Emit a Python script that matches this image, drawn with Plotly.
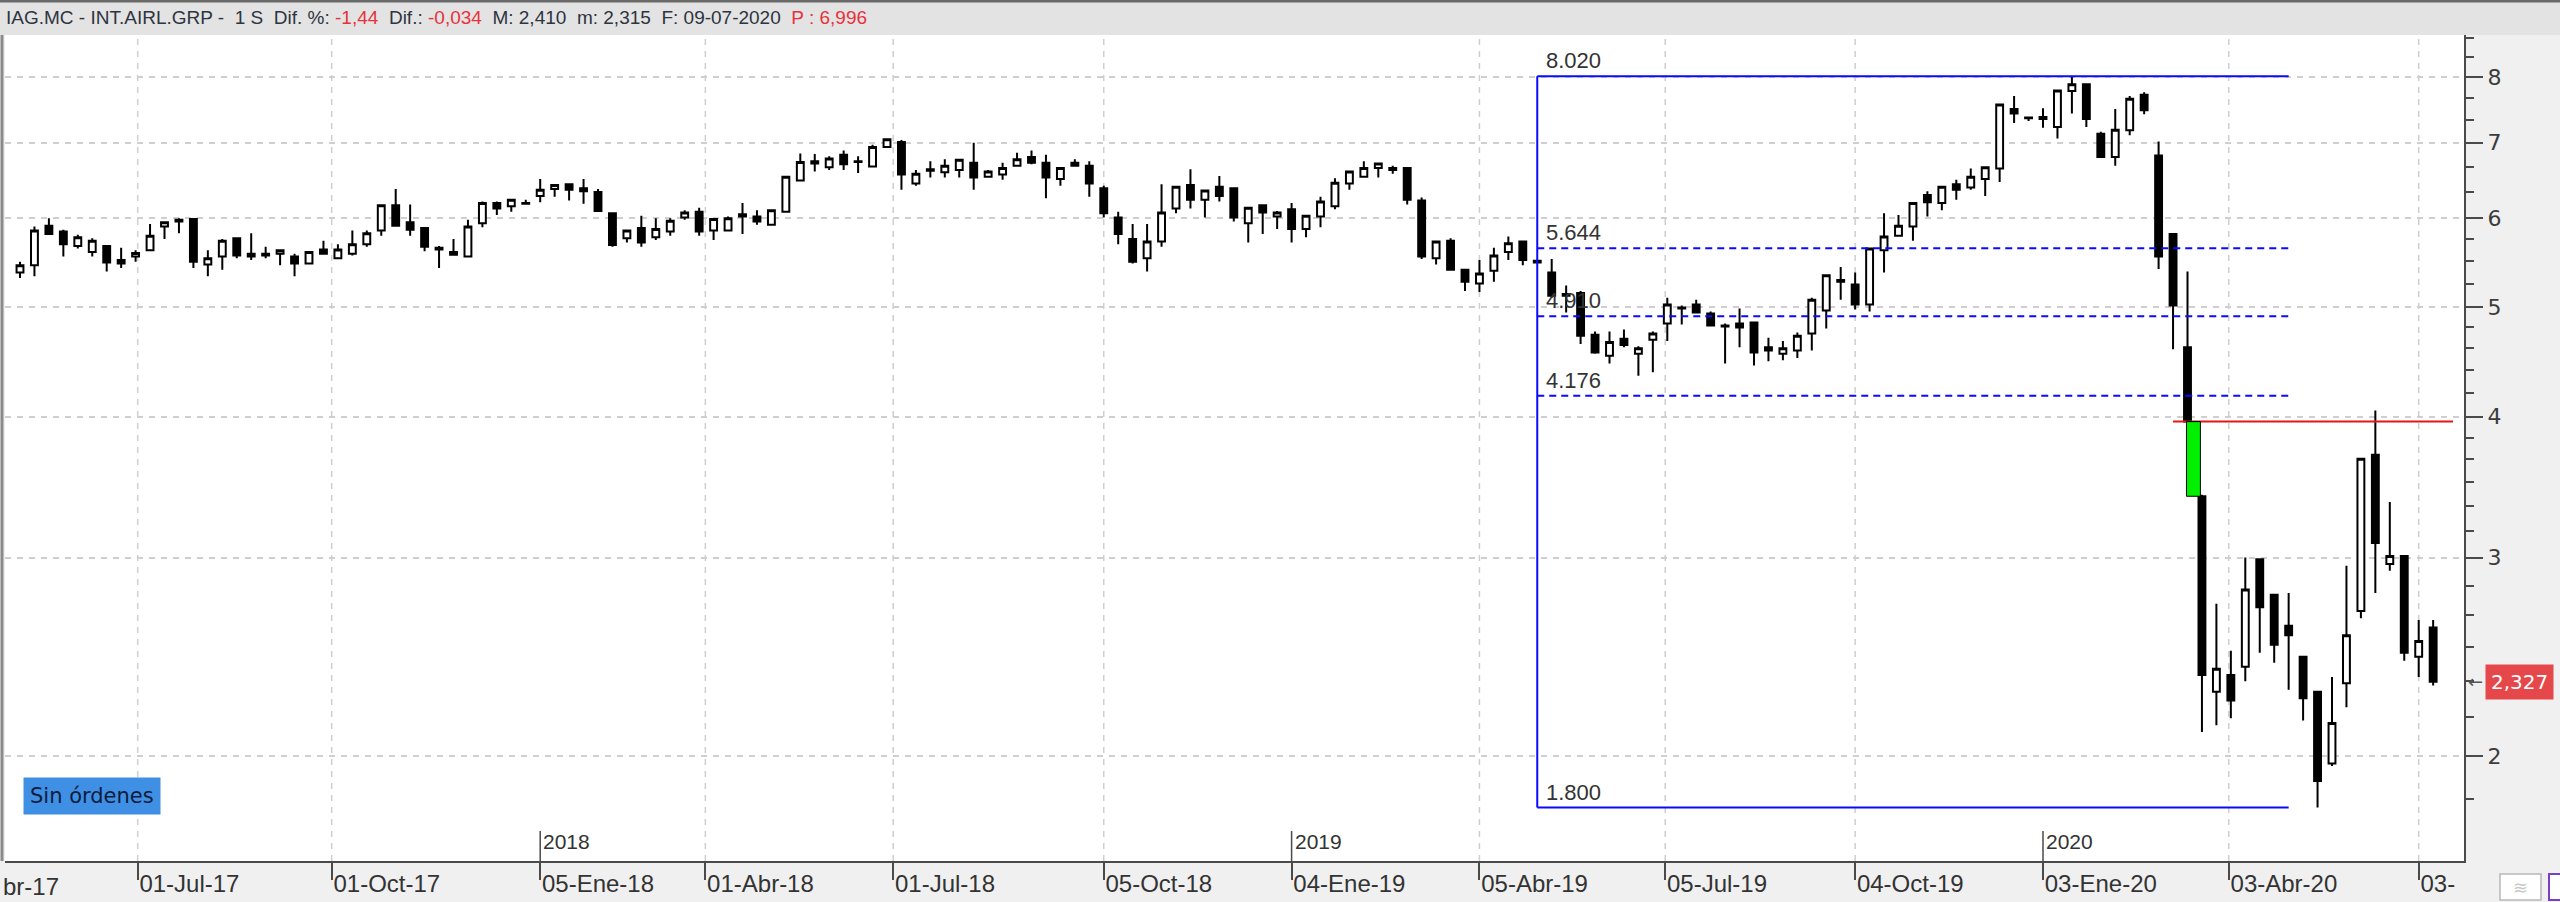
import math
import pandas as pd
import plotly.graph_objects as go

# ---------------- data ----------------
start_date = "2017-04-28"          # weekly candles (Fridays)
n_weeks = 168
dates = pd.date_range(start_date, periods=n_weeks, freq="7D")

open_ = [
    5.37, 5.45, 5.91, 5.84, 5.67, 5.60, 5.67, 5.51, 5.55, 5.62,
    5.90, 5.96, 5.99, 5.46, 5.55, 5.76, 5.58, 5.58, 5.58, 5.55,
    5.47, 5.63, 5.53, 5.58, 5.69, 5.85, 6.16, 5.95, 5.88, 5.65,
    5.60, 5.55, 5.94, 6.19, 6.15, 6.18, 6.28, 6.37, 6.43, 6.38,
    6.33, 6.06, 5.76, 5.88, 5.77, 5.84, 6.01, 6.08, 5.85, 5.85,
    6.05, 6.02, 5.92, 6.08, 6.48, 6.74, 6.66, 6.83, 6.74, 6.67,
    6.94, 7.01, 6.44, 6.63, 6.59, 6.62, 6.72, 6.53, 6.56, 6.68,
    6.80, 6.72, 6.50, 6.72, 6.68, 6.38, 6.01, 5.75, 5.53, 5.72,
    6.12, 6.42, 6.23, 6.40, 6.38, 5.94, 6.16, 6.02, 6.11, 5.87,
    6.02, 6.15, 6.44, 6.53, 6.65, 6.65, 6.65, 6.22, 5.53, 5.73,
    5.40, 5.25, 5.39, 5.60, 5.72, 5.50, 5.37, 5.14, 5.15, 4.73,
    4.53, 4.69, 4.55, 4.68, 4.84, 4.99, 5.03, 4.94, 4.82, 4.84,
    4.85, 4.61, 4.55, 4.58, 4.74, 4.97, 5.29, 5.24, 5.03, 5.62,
    5.79, 5.90, 6.29, 6.19, 6.43, 6.39, 6.50, 6.64, 7.50, 7.37,
    7.38, 7.23, 7.78, 7.89, 7.13, 6.80, 7.18, 7.72, 6.82, 5.81,
    4.61, 3.40, 2.28, 2.36, 2.40, 2.99, 2.78, 2.61, 2.45, 2.28,
    1.97, 2.32, 2.69, 3.70, 2.96, 3.01, 2.45, 2.60,
]
high = [
    5.49, 5.90, 6.00, 5.86, 5.80, 5.76, 5.67, 5.65, 5.62, 5.93,
    5.96, 6.00, 6.00, 5.62, 5.75, 5.77, 5.82, 5.66, 5.63, 5.58,
    5.60, 5.73, 5.69, 5.85, 5.85, 6.17, 6.37, 6.17, 5.88, 5.67,
    5.75, 5.98, 6.21, 6.21, 6.24, 6.23, 6.50, 6.43, 6.43, 6.50,
    6.37, 6.06, 5.85, 6.03, 6.00, 6.00, 6.10, 6.13, 6.00, 6.02,
    6.19, 6.10, 6.10, 6.54, 6.85, 6.84, 6.81, 6.89, 6.81, 6.97,
    7.06, 7.04, 6.62, 6.74, 6.77, 6.77, 7.00, 6.62, 6.72, 6.86,
    6.89, 6.83, 6.65, 6.77, 6.74, 6.41, 6.08, 5.93, 5.93, 6.43,
    6.40, 6.63, 6.35, 6.54, 6.38, 6.13, 6.16, 6.09, 6.19, 6.03,
    6.27, 6.51, 6.60, 6.74, 6.72, 6.68, 6.65, 6.26, 5.72, 5.76,
    5.40, 5.51, 5.65, 5.78, 5.72, 5.51, 5.52, 5.23, 5.17, 4.76,
    4.76, 4.78, 4.62, 4.76, 5.10, 5.02, 5.08, 4.96, 4.84, 4.99,
    4.85, 4.70, 4.67, 4.75, 5.10, 5.34, 5.43, 5.37, 5.64, 6.06,
    6.04, 6.19, 6.34, 6.40, 6.49, 6.64, 6.66, 7.57, 7.70, 7.38,
    7.51, 7.79, 8.02, 7.89, 7.16, 7.50, 7.70, 7.76, 7.02, 5.81,
    5.38, 3.41, 2.73, 2.48, 3.00, 2.99, 2.78, 2.79, 2.45, 2.28,
    2.35, 2.95, 3.67, 4.05, 3.36, 3.01, 2.64, 2.64,
]
low = [
    5.31, 5.33, 5.81, 5.55, 5.64, 5.55, 5.38, 5.42, 5.49, 5.62,
    5.75, 5.82, 5.42, 5.33, 5.40, 5.53, 5.51, 5.53, 5.45, 5.33,
    5.46, 5.58, 5.52, 5.56, 5.66, 5.79, 5.91, 5.79, 5.61, 5.42,
    5.57, 5.55, 5.89, 6.04, 6.08, 6.18, 6.20, 6.27, 6.22, 6.18,
    6.08, 5.66, 5.71, 5.66, 5.74, 5.79, 5.98, 5.79, 5.74, 5.84,
    5.81, 5.92, 5.92, 6.07, 6.47, 6.60, 6.62, 6.62, 6.58, 6.67,
    6.94, 6.36, 6.41, 6.52, 6.52, 6.52, 6.36, 6.52, 6.49, 6.68,
    6.70, 6.25, 6.41, 6.68, 6.27, 6.01, 5.69, 5.47, 5.38, 5.66,
    6.06, 6.12, 6.01, 6.21, 5.96, 5.71, 5.81, 5.87, 5.71, 5.77,
    5.89, 6.11, 6.36, 6.52, 6.52, 6.57, 6.17, 5.52, 5.46, 5.40,
    5.17, 5.16, 5.27, 5.51, 5.45, 5.47, 5.10, 4.95, 4.64, 4.55,
    4.46, 4.61, 4.35, 4.38, 4.67, 4.83, 4.95, 4.82, 4.46, 4.61,
    4.44, 4.48, 4.49, 4.51, 4.58, 4.79, 5.08, 4.98, 4.96, 5.37,
    5.78, 5.73, 6.02, 6.10, 6.23, 6.36, 6.28, 6.46, 7.29, 7.32,
    7.22, 7.06, 7.43, 7.23, 6.80, 6.68, 7.11, 7.42, 5.41, 4.59,
    3.95, 2.10, 2.13, 2.16, 2.33, 2.47, 2.42, 2.29, 2.15, 1.80,
    1.96, 2.21, 2.65, 2.79, 2.92, 2.43, 2.35, 2.31,
]
close = [
    5.45, 5.85, 5.81, 5.69, 5.77, 5.73, 5.48, 5.47, 5.59, 5.79,
    5.95, 5.98, 5.49, 5.53, 5.73, 5.56, 5.55, 5.56, 5.62, 5.47,
    5.60, 5.58, 5.63, 5.69, 5.82, 6.16, 5.91, 5.86, 5.66, 5.63,
    5.57, 5.90, 6.19, 6.12, 6.23, 6.19, 6.36, 6.42, 6.36, 6.34,
    6.09, 5.68, 5.85, 5.71, 5.87, 5.97, 6.07, 5.84, 5.99, 6.00,
    6.02, 5.96, 6.10, 6.53, 6.73, 6.71, 6.78, 6.70, 6.73, 6.94,
    7.05, 6.56, 6.57, 6.61, 6.68, 6.76, 6.52, 6.60, 6.65, 6.77,
    6.72, 6.52, 6.65, 6.68, 6.44, 6.06, 5.81, 5.49, 5.72, 6.07,
    6.40, 6.23, 6.35, 6.28, 6.01, 6.13, 6.07, 6.07, 5.87, 6.03,
    6.21, 6.45, 6.60, 6.65, 6.71, 6.62, 6.23, 5.55, 5.72, 5.40,
    5.27, 5.36, 5.56, 5.70, 5.51, 5.48, 5.12, 5.12, 4.72, 4.56,
    4.66, 4.63, 4.60, 4.74, 5.03, 5.00, 4.95, 4.82, 4.81, 4.80,
    4.56, 4.58, 4.60, 4.72, 5.08, 5.34, 5.27, 5.03, 5.64, 5.78,
    5.91, 6.19, 6.20, 6.40, 6.36, 6.53, 6.66, 7.57, 7.43, 7.36,
    7.35, 7.79, 7.89, 7.35, 6.80, 7.19, 7.66, 7.48, 5.55, 5.02,
    3.96, 2.36, 2.39, 2.24, 2.81, 2.71, 2.51, 2.56, 2.25, 1.90,
    2.14, 2.56, 3.67, 3.09, 3.01, 2.47, 2.53, 2.327,
]

# x-axis labels
tick_dates = ["2017-06-24", "2017-09-26", "2018-01-05", "2018-03-26", "2018-06-25",
              "2018-10-05", "2019-01-04", "2019-04-05", "2019-07-04", "2019-10-04",
              "2020-01-03", "2020-04-02", "2020-07-03"]
tick_text = ["01-Jul-17", "01-Oct-17", "05-Ene-18", "01-Abr-18", "01-Jul-18",
             "05-Oct-18", "04-Ene-19", "05-Abr-19", "05-Jul-19", "04-Oct-19",
             "03-Ene-20", "03-Abr-20", "03-"]
first_label_text = "br-17"     # visible tail of the label left of the visible area
year_dates = ["2018-01-05", "2019-01-04", "2020-01-03"]
year_text = ["2018", "2019", "2020"]

# y-axis ticks
y_major = [2, 3, 4, 5, 6, 7, 8]
y_minor = [1.833, 2.167, 2.333, 2.5, 2.667, 2.833, 3.167, 3.333, 3.5, 3.667, 3.833,
           4.2, 4.4, 4.6, 4.8, 5.25, 5.5, 5.75, 6.333, 6.667, 7.333, 7.667, 8.333, 8.667]

# Fibonacci retracement
fib_levels = [8.020, 5.644, 4.910, 4.176, 1.800]
fib_text = ["8.020", "5.644", "4.910", "4.176", "1.800"]
fib_start = "2019-05-03"
fib_end = "2020-05-01"

red_level = 3.96
last_price = 2.327
last_price_text = "2,327"

title_parts = {
    "name": "IAG.MC - INT.AIRL.GRP -",
    "period": "1 S",
    "dif_pct": "-1,44",
    "dif": "-0,034",
    "max": "2,410",
    "min": "2,315",
    "date": "09-07-2020",
    "p": "6,996",
}
orders_text = "Sin órdenes"

# ---------------- layout geometry ----------------
W, H = 2560, 902
ML, MR, MT, MB = 5, 96, 35, 41
PW = W - ML - MR
PH = H - MT - MB
week_px = 14.45
first_px = 20


def px_x(px):
    return (px - ML) / PW


def px_y(py):
    return (H - MB - py) / PH


wk = pd.Timedelta(days=7)
x_left = dates[0] - wk * ((first_px - ML) / week_px)
x_right = dates[0] + wk * ((ML + PW - first_px) / week_px)
y_top = 2 * math.exp((756 - MT) / 489.5)
y_bot = 2 * math.exp((756 - (H - MB)) / 489.5)

AX = "#4a4a4a"
GRID = "#cfcfcf"
BLUE = "#0a0aff"
RED_TXT = "#e8323c"

fig = go.Figure()
fig.add_trace(go.Candlestick(
    x=dates, open=open_, high=high, low=low, close=close,
    increasing=dict(fillcolor="white", line=dict(color="black", width=2)),
    decreasing=dict(fillcolor="black", line=dict(color="black", width=2)),
    whiskerwidth=0, showlegend=False, hoverinfo="skip",
))

shapes = []
# vertical dashed grid (non-year ticks)
for d in tick_dates:
    if d in year_dates:
        continue
    shapes.append(dict(type="line", xref="x", yref="paper", x0=d, x1=d, y0=0, y1=1,
                       line=dict(color=GRID, width=1.5, dash="6px,6px"), layer="below"))
# year markers
for d in year_dates:
    shapes.append(dict(type="line", xref="x", yref="paper", x0=d, x1=d, y0=0, y1=px_y(831),
                       line=dict(color=AX, width=1.5)))
# fibonacci
shapes.append(dict(type="line", xref="x", yref="y", x0=fib_start, x1=fib_start,
                   y0=fib_levels[-1], y1=fib_levels[0], line=dict(color=BLUE, width=2)))
for i, lv in enumerate(fib_levels):
    solid = i in (0, len(fib_levels) - 1)
    shapes.append(dict(type="line", xref="x", yref="y", x0=fib_start, x1=fib_end, y0=lv, y1=lv,
                       line=dict(color=BLUE, width=2, dash="solid" if solid else "7px,5px")))
# red level line
red_end = dates[0] + wk * ((2453 - first_px) / week_px)
shapes.append(dict(type="line", xref="x", yref="y", x0=dates[149], x1=red_end,
                   y0=red_level, y1=red_level, line=dict(color="#e01818", width=2)))
# green gap box (between close of week 150 and open of week 151)
shapes.append(dict(type="rect", xref="x", yref="y",
                   x0=dates[150] - pd.Timedelta(hours=12), x1=dates[151] - pd.Timedelta(hours=18),
                   y0=open_[151], y1=close[150], fillcolor="#00f000",
                   line=dict(color="black", width=1)))
# title bar
shapes.append(dict(type="rect", xref="paper", yref="paper", x0=px_x(0), x1=px_x(W),
                   y0=px_y(MT), y1=px_y(0), fillcolor="#e3e3e3", line=dict(width=0), layer="below"))
shapes.append(dict(type="line", xref="paper", yref="paper", x0=px_x(0), x1=px_x(W),
                   y0=px_y(1), y1=px_y(1), line=dict(color="#6a6a6a", width=3)))
# left border
shapes.append(dict(type="line", xref="paper", yref="paper", x0=px_x(2), x1=px_x(2),
                   y0=px_y(MT), y1=px_y(H - MB), line=dict(color="#8a8a8a", width=3)))
# bottom-right buttons
shapes.append(dict(type="rect", xref="paper", yref="paper", x0=px_x(2500), x1=px_x(2541),
                   y0=px_y(900), y1=px_y(874), fillcolor="white", line=dict(color="#b8b8b8", width=1.5)))
shapes.append(dict(type="rect", xref="paper", yref="paper", x0=px_x(2549), x1=px_x(2566),
                   y0=px_y(900), y1=px_y(874), fillcolor="white", line=dict(color="#7b3fc4", width=2)))

annotations = []
# title
t = title_parts
sp = "\u00a0"
title_html = (
    f"{t['name']}{sp}{sp}{t['period']}{sp}{sp}Dif. %: <span style='color:{RED_TXT}'>{t['dif_pct']}</span>{sp}{sp}"
    f"Dif.: <span style='color:{RED_TXT}'>{t['dif']}</span>{sp}{sp}M: {t['max']}{sp}{sp}m: {t['min']}{sp}{sp}"
    f"F: {t['date']}{sp}{sp}<span style='color:{RED_TXT}'>P : {t['p']}</span>"
)
annotations.append(dict(xref="paper", yref="paper", x=px_x(4), y=px_y(18), xanchor="left", yanchor="middle",
                        text=title_html, showarrow=False,
                        font=dict(family="Liberation Sans", size=19, color="#2e3440")))
# tail of the first x label at the left edge
annotations.append(dict(xref="paper", yref="paper", x=px_x(1), y=px_y(886), xanchor="left",
                        yanchor="middle", text=first_label_text, showarrow=False,
                        font=dict(family="Liberation Sans", size=24, color="#333333")))
# year labels
for d, txt in zip(year_dates, year_text):
    annotations.append(dict(xref="x", yref="paper", x=d, y=px_y(841), xanchor="left", yanchor="middle",
                            xshift=1, text=txt, showarrow=False,
                            font=dict(family="Liberation Sans", size=21, color="#333333")))
# fibonacci labels
for lv, txt in zip(fib_levels, fib_text):
    annotations.append(dict(xref="x", yref="y", x=fib_start, y=math.log10(lv), xanchor="left",
                            yanchor="bottom", xshift=7, yshift=1, text=txt, showarrow=False,
                            font=dict(family="Liberation Sans", size=22, color="#333333")))
# orders box
annotations.append(dict(xref="paper", yref="paper", x=px_x(23), y=px_y(796), xanchor="left",
                        yanchor="middle", text=orders_text, showarrow=False, bgcolor="#3f8fe4",
                        borderpad=6, font=dict(family="DejaVu Sans", size=21, color="#0b1c3c")))
# last price tag
annotations.append(dict(xref="paper", yref="y", x=px_x(2485), y=math.log10(last_price), xanchor="left",
                        yanchor="middle", text=last_price_text, showarrow=False, bgcolor="#e5474b",
                        borderpad=5, font=dict(family="DejaVu Sans", size=20, color="white")))
annotations.append(dict(xref="paper", yref="y", x=px_x(2466), y=math.log10(last_price), xanchor="left",
                        yanchor="middle", text="←", showarrow=False,
                        font=dict(family="DejaVu Sans", size=18, color="#555555")))
annotations.append(dict(xref="paper", yref="paper", x=px_x(2520), y=px_y(887), xanchor="center",
                        yanchor="middle", text="≋", showarrow=False,
                        font=dict(family="DejaVu Sans", size=18, color="#c8c8c8")))

fig.update_layout(
    width=W, height=H,
    margin=dict(l=ML, r=MR, t=MT, b=MB, pad=0),
    paper_bgcolor="#f0f0f0",
    plot_bgcolor="white",
    showlegend=False,
    shapes=shapes,
    annotations=annotations,
    boxgap=0.32,
    xaxis=dict(
        type="date", range=[x_left, x_right], rangeslider=dict(visible=False),
        tickmode="array", tickvals=tick_dates, ticktext=tick_text,
        ticks="outside", ticklen=17, tickwidth=1.5, tickcolor=AX,
        ticklabelposition="outside right",
        showline=True, linecolor=AX, linewidth=2, showgrid=False, zeroline=False,
        tickfont=dict(family="Liberation Sans", size=24, color="#333333"),
        fixedrange=True,
    ),
    yaxis=dict(
        type="log", side="right", range=[math.log10(y_bot), math.log10(y_top)],
        tickmode="array", tickvals=y_major, ticktext=[str(v) for v in y_major],
        ticks="outside", ticklen=17, tickwidth=1.5, tickcolor=AX,
        showline=True, linecolor=AX, linewidth=2, mirror=False,
        showgrid=True, gridcolor=GRID, gridwidth=1.5, griddash="6px,6px",
        minor=dict(tickmode="array", tickvals=y_minor, ticks="outside", ticklen=8,
                   tickwidth=1.5, tickcolor=AX, showgrid=False),
        tickfont=dict(family="DejaVu Sans", size=22, color="#3c3c3c"),
        zeroline=False, fixedrange=True,
    ),
)

fig.write_html(
    "out.html",
    config={"displayModeBar": False},
    post_script="document.body.style.margin='0px';document.body.style.overflow='hidden';",
)
